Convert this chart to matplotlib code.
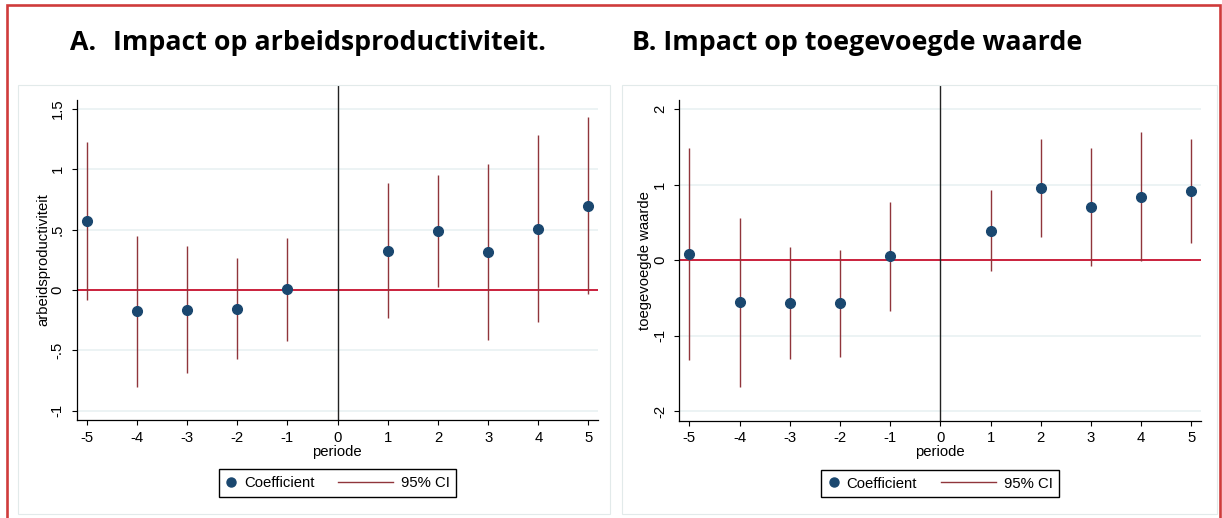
import matplotlib
matplotlib.use("Agg")
import matplotlib.pyplot as plt
from matplotlib.lines import Line2D
from matplotlib.patches import Rectangle
from matplotlib.legend_handler import HandlerLine2D

# ---------------- data ----------------
periods = [-5, -4, -3, -2, -1, 1, 2, 3, 4, 5]

coef_a = [0.569, -0.177, -0.163, -0.155, 0.006, 0.326, 0.492, 0.315, 0.508, 0.699]
lo_a = [-0.083, -0.801, -0.691, -0.575, -0.420, -0.232, 0.028, -0.414, -0.265, -0.030]
hi_a = [1.224, 0.450, 0.365, 0.262, 0.428, 0.884, 0.953, 1.041, 1.285, 1.431]

coef_b = [0.084, -0.561, -0.570, -0.570, 0.053, 0.389, 0.958, 0.702, 0.839, 0.918]
lo_b = [-1.329, -1.687, -1.307, -1.285, -0.680, -0.150, 0.305, -0.084, -0.018, 0.221]
hi_b = [1.488, 0.561, 0.168, 0.137, 0.773, 0.923, 1.607, 1.488, 1.691, 1.607]

xticks = [-5, -4, -3, -2, -1, 0, 1, 2, 3, 4, 5]
xticklabels = ["-5", "-4", "-3", "-2", "-1", "0", "1", "2", "3", "4", "5"]
yticks_a = [-1, -0.5, 0, 0.5, 1, 1.5]
yticklabels_a = ["-1", "-.5", "0", ".5", "1", "1.5"]
yticks_b = [-2, -1, 0, 1, 2]
yticklabels_b = ["-2", "-1", "0", "1", "2"]

title_a_letter = "A."
title_a = "Impact op arbeidsproductiviteit."
title_b = "B. Impact op toegevoegde waarde"
ylabel_a = "arbeidsproductiviteit"
ylabel_b = "toegevoegde waarde"
xlabel = "periode"
leg_labels = ["Coefficient", "95% CI"]

# ---------------- style ----------------
plt.rcParams["font.family"] = ["Liberation Sans", "DejaVu Sans"]
FS = 10.7
NAVY = "#1A476F"
MAROON = "#90353B"
ZERO = "#C8102E"
GRID = "#EAF2F3"

W, H = 1222, 518
fig = plt.figure(figsize=(W / 100, H / 100), dpi=100)
fig.patch.set_facecolor("white")


def fx(px):
    return px / W


def fy(py):
    return 1 - py / H


class SmallMarkerHandler(HandlerLine2D):
    def legend_artist(self, legend, orig_handle, fontsize, handlebox):
        handlebox.width = 0.75 * fontsize
        return super().legend_artist(legend, orig_handle, fontsize, handlebox)


def panel(rect, coef, lo, hi, ylim, spine_top, yticks, yticklabels, ylabel,
          ylabel_x, leg_center):
    ax = fig.add_axes(rect)
    ax.set_xlim(-5.2, 5.19)
    ax.set_ylim(*ylim)
    ax.set_yticks(yticks)
    ax.set_yticklabels(yticklabels)
    ax.set_xticks(xticks)
    ax.set_xticklabels(xticklabels)
    ax.yaxis.grid(True, color=GRID, lw=1.3)
    ax.set_axisbelow(True)
    for s in ["top", "right"]:
        ax.spines[s].set_visible(False)
    ax.spines["left"].set_bounds(ylim[0], spine_top)
    for s in ["left", "bottom"]:
        ax.spines[s].set_linewidth(0.9)
        ax.spines[s].set_color("black")
    ax.tick_params(axis="both", direction="out", length=3.6, width=0.8,
                   labelsize=FS, colors="black")
    ax.tick_params(axis="y", pad=5)
    ax.tick_params(axis="x", pad=4)
    for lab in ax.get_yticklabels():
        lab.set_rotation(90)
        lab.set_va("center")
    ax.axhline(0, color=ZERO, lw=1.3, zorder=1)
    ax.axvline(0, color="#222222", lw=1.0, zorder=1)
    ax.vlines(periods, lo, hi, color=MAROON, lw=1.0, zorder=2)
    ax.plot(periods, coef, "o", color=NAVY, ms=7, ls="none", zorder=3)
    ax.set_xlabel(xlabel, fontsize=FS, labelpad=0)
    ax.set_ylabel(ylabel, fontsize=FS)
    ax.yaxis.set_label_coords(ylabel_x, (ylim[0] + spine_top) / 2,
                              transform=matplotlib.transforms.blended_transform_factory(
                                  ax.transAxes, ax.transData))
    handles = [Line2D([], [], marker="o", ls="none", color=NAVY, ms=6.5),
               Line2D([], [], color=MAROON, lw=1.0)]
    leg = fig.legend(handles, leg_labels, loc="center",
                     bbox_to_anchor=(fx(leg_center[0]), fy(leg_center[1])),
                     ncol=2, fontsize=FS, handlelength=3.73, handletextpad=0.5,
                     columnspacing=1.6, borderpad=0.45, fancybox=False,
                     framealpha=1, edgecolor="black",
                     handler_map={handles[0]: SmallMarkerHandler()})
    leg.get_frame().set_linewidth(1.0)
    return ax


# graph region boxes
fig.patches.append(Rectangle((fx(17.5), fy(514)), fx(610) - fx(17.5), fy(85) - fy(514),
                             transform=fig.transFigure, fill=False,
                             edgecolor="#E2EAEA", lw=0.8))
fig.patches.append(Rectangle((fx(621.5), fy(514)), fx(1216.7) - fx(621.5), fy(85) - fy(514),
                             transform=fig.transFigure, fill=False,
                             edgecolor="#E2EAEA", lw=0.8))

panel([fx(76.7), fy(420), fx(598) - fx(76.7), fy(86) - fy(420)],
      coef_a, lo_a, hi_a, (-1.077, 1.690), 1.575, yticks_a, yticklabels_a,
      ylabel_a, -0.051, (337.5, 483))
panel([fx(679.3), fy(420.7), fx(1201) - fx(679.3), fy(86) - fy(420.7)],
      coef_b, lo_b, hi_b, (-2.128, 2.305), 2.12, yticks_b, yticklabels_b,
      ylabel_b, -0.052, (940.4, 483.5))

# titles
tkw = dict(fontsize=19.3, fontweight="bold", family=["Open Sans", "DejaVu Sans"],
           va="baseline", ha="left", color="black")
fig.text(fx(70), fy(50), title_a_letter, **tkw)
fig.text(fx(113), fy(50), title_a, **tkw)
fig.text(fx(632), fy(50), title_b, **tkw)

# outer red frame
fig.patches.append(Rectangle((fx(6.5), fy(540)), fx(1220.3) - fx(6.5), fy(5) - fy(540),
                             transform=fig.transFigure, fill=False,
                             edgecolor="#CF3B3B", lw=1.9, clip_on=False))

fig.savefig("out.png", dpi=100)
